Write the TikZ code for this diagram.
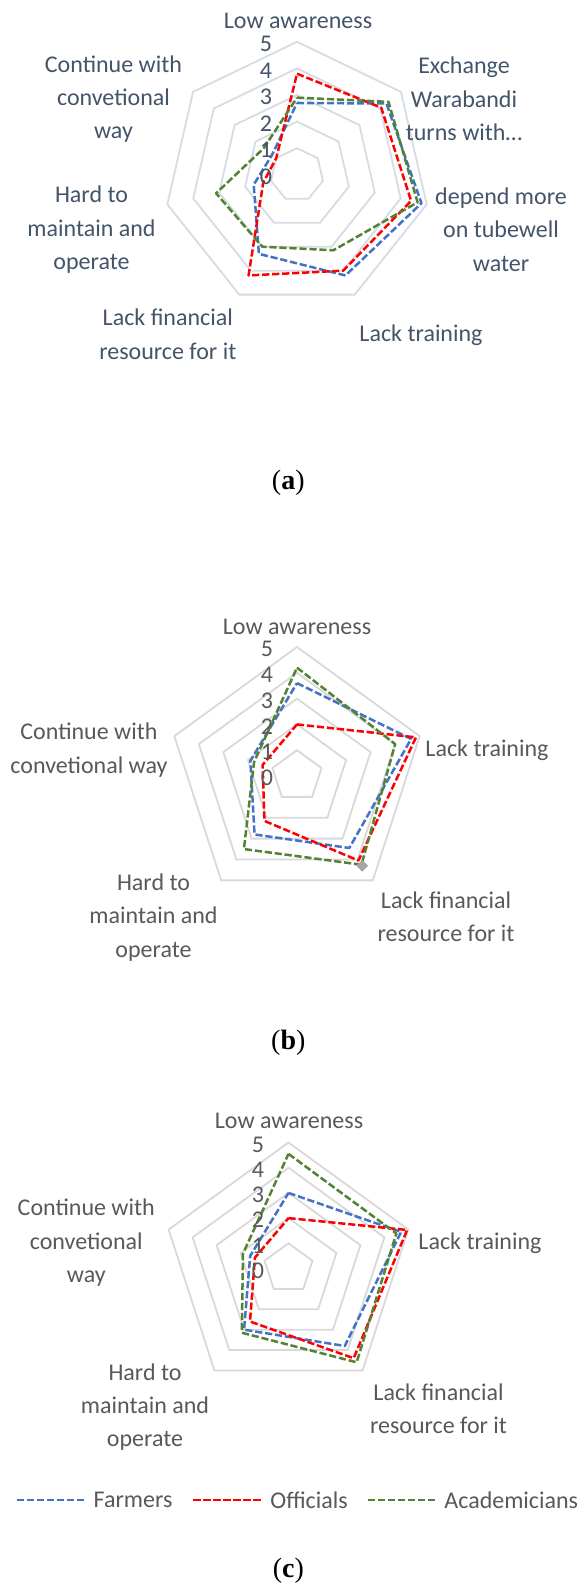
\documentclass[tikz,border=0pt]{standalone}
\usepackage{fontspec}
\setmainfont{Carlito}
\newfontfamily\capfont{Liberation Serif}
\usetikzlibrary{shapes.geometric}
\definecolor{txta}{HTML}{44546A}
\definecolor{txtb}{HTML}{595959}
\definecolor{rima}{HTML}{D6DCE5}
\definecolor{rimb}{HTML}{D9D9D9}
\definecolor{farmblue}{HTML}{4472C4}
\definecolor{offred}{HTML}{FF0000}
\definecolor{acadgreen}{HTML}{548235}
\definecolor{mkgray}{HTML}{A5A5A5}

\begin{document}
\begin{tikzpicture}[x=0.5pt,y=0.5pt,
  lbla/.style={font=\fontsize{12}{16.7}\selectfont,align=center,inner sep=0pt,text=txta},
  lblb/.style={font=\fontsize{12}{16.7}\selectfont,align=center,inner sep=0pt,text=txtb},
  ringa/.style={draw=rima,line width=0.9pt},
  ringb/.style={draw=rimb,line width=0.9pt},
  serie/.style={line width=1.25pt,dash pattern=on 3.6pt off 1.4pt,line join=round},
  farm/.style={serie,draw=farmblue},
  offi/.style={serie,draw=offred},
  acad/.style={serie,draw=acadgreen},
  capt/.style={font=\capfont\fontsize{14}{16}\selectfont,inner sep=0pt}]

\fill[white] (0,0) rectangle (579,-1585);
\useasboundingbox (0,0) rectangle (579,-1585);

\begin{scope}[shift={(297,-174.8)},scale=26.6]
  \foreach \r in {1,...,5}
    \draw[ringa] (90:\r) -- (38.57:\r) -- (-12.86:\r) -- (-64.29:\r) -- (-115.71:\r) -- (-167.14:\r) -- (141.43:\r) -- cycle;
  \draw[farm] (90:2.7) -- (38.57:4.3) -- (-12.86:4.8) -- (-64.29:4.2) -- (-115.71:3.3) -- (-167.14:1.67) -- (141.43:1.2) -- cycle;
  \draw[offi] (90:3.8) -- (38.57:4.05) -- (-12.86:4.4) -- (-64.29:4.0) -- (-115.71:4.2) -- (-167.14:1.3) -- (141.43:1.0) -- cycle;
  \draw[acad] (90:2.9) -- (38.57:4.4) -- (-12.86:4.65) -- (-64.29:3.15) -- (-115.71:3.0) -- (-167.14:3.12) -- (141.43:1.6) -- cycle;
\end{scope}
\foreach \v in {0,...,5}
  \node[lbla] (na\v) at (266,{-176.8+26.6*\v}) {\v};
\node[lbla] (ala) at (298,-21) {Low awareness};
\node[lbla] (aex) at (464,-99) {Exchange\\Warabandi\\turns with…};
\node[lbla] (adep) at (501,-229.6) {depend more\\on tubewell\\water};
\node[lbla] (alt) at (421,-335) {Lack training};
\node[lbla] (alf) at (167.8,-334.3) {Lack financial\\resource for it};
\node[lbla] (ahard) at (91.5,-229.6) {Hard to\\maintain and\\operate};
\node[lbla] (acont) at (113.5,-99) {Continue with\\convetional\\way};
\node[capt] (capa) at (288.3,-482.7) {(\textbf{a})};

\begin{scope}[shift={(297,-776)},scale=25.8]
  \foreach \r in {1,...,5}
    \draw[ringb] (90:\r) -- (18:\r) -- (-54:\r) -- (-126:\r) -- (162:\r) -- cycle;
  \draw[farm] (90:3.6) -- (18:4.65) -- (-54:3.45) -- (-126:2.8) -- (162:1.9) -- cycle;
  \draw[offi] (90:2.0) -- (18:4.85) -- (-54:4.05) -- (-126:2.15) -- (162:1.4) -- cycle;
  \draw[acad] (90:4.2) -- (18:4.0) -- (-54:4.25) -- (-126:3.5) -- (162:1.75) -- cycle;
  \node[diamond,fill=mkgray,inner sep=0pt,minimum size=6pt] (mk) at (-54:4.3) {};
\end{scope}
\foreach \v in {0,...,5}
  \node[lblb] (nb\v) at (267,{-778+25.8*\v}) {\v};
\node[lblb] (bla) at (297,-627) {Low awareness};
\node[lblb] (blt) at (487,-750) {Lack training};
\node[lblb] (blf) at (446,-916.7) {Lack financial\\resource for it};
\node[lblb] (bhard) at (153.5,-917.4) {Hard to\\maintain and\\operate};
\node[lblb] (bcont) at (89,-750) {Continue with\\convetional way};
\node[capt] (capb) at (288.3,-1043) {(\textbf{b})};

\begin{scope}[shift={(288.5,-1268.5)},scale=25.2]
  \foreach \r in {1,...,5}
    \draw[ringb] (90:\r) -- (18:\r) -- (-54:\r) -- (-126:\r) -- (162:\r) -- cycle;
  \draw[farm] (90:3.0) -- (18:4.7) -- (-54:3.8) -- (-126:3.0) -- (162:1.6) -- cycle;
  \draw[offi] (90:2.0) -- (18:4.95) -- (-54:4.4) -- (-126:2.6) -- (162:1.4) -- cycle;
  \draw[acad] (90:4.55) -- (18:4.5) -- (-54:4.6) -- (-126:3.15) -- (162:1.9) -- cycle;
\end{scope}
\foreach \v in {0,...,5}
  \node[lblb] (nc\v) at (258,{-1270.5+25.2*\v}) {\v};
\node[lblb] (cla) at (289,-1121) {Low awareness};
\node[lblb] (clt) at (480,-1243.7) {Lack training};
\node[lblb] (clf) at (438.5,-1409) {Lack financial\\resource for it};
\node[lblb] (chard) at (145,-1407) {Hard to\\maintain and\\operate};
\node[lblb] (ccont) at (86.3,-1242.6) {Continue with\\convetional\\way};

\node[lblb,anchor=west] (gfarm) at (93.3,-1500) {Farmers};
\node[lblb,anchor=west] (goffi) at (270,-1500) {Officials};
\node[lblb,anchor=west] (gacad) at (444,-1500) {Academicians};
\draw[farm] (16.7,-1500) -- ([xshift=-3.6pt]gfarm.west);
\draw[offi] (193.3,-1500) -- ([xshift=-3.6pt]goffi.west);
\draw[acad] (368,-1500) -- ([xshift=-3.6pt]gacad.west);
\node[capt] (capc) at (288.3,-1570.7) {(\textbf{c})};
\end{tikzpicture}
\end{document}
